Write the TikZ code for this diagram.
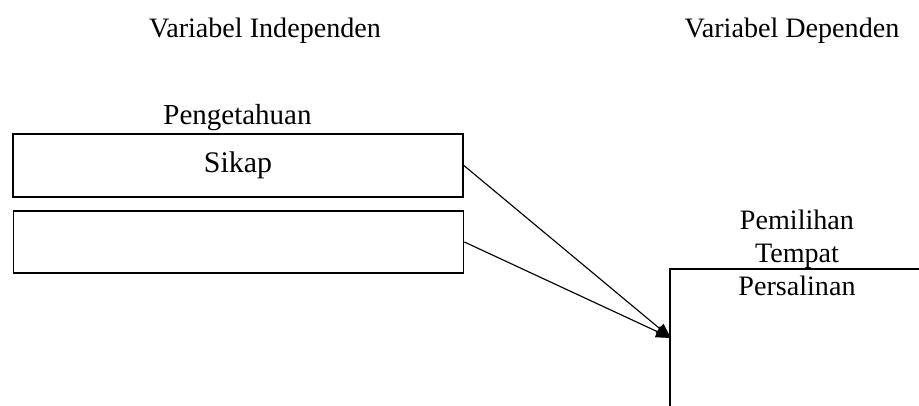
\documentclass[tikz,border=0pt]{standalone}
\usepackage{fontspec}
\setmainfont{Liberation Serif}
\usetikzlibrary{arrows.meta}

\begin{document}
\begin{tikzpicture}[
	varbox/.style={rectangle, draw=black, line width=1pt, minimum width=9cm, minimum height=1.25cm},
	link/.style={line width=0.65pt, -{Triangle[length=0.3cm, width=0.24cm]}}
]
\fontsize{16pt}{18.7pt}\selectfont

\useasboundingbox (0, 0) rectangle (18.38, 8.12);
\clip (0, 0) rectangle (18.38, 8.12);

\node (indep) at (5.3, 7.36) [anchor=base] {Variabel Independen};
\node (dep) at (15.84, 7.36) [anchor=base] {Variabel Dependen};

\node (sikap) at (4.76, 4.81) [varbox, font=\fontsize{17pt}{20pt}\selectfont] {Sikap};
\node (peng) at (4.75, 5.62) [anchor=base, font=\fontsize{16.5pt}{19pt}\selectfont] {Pengetahuan};
\node (kosong) at (4.77, 3.28) [varbox] {};

\node (pilih) at (15.94, 3.06) [anchor=center, align=center] {Pemilihan\\Tempat\\Persalinan};
\node (PT) at (16.9, 0.74) [rectangle, draw=black, line width=1.1pt, minimum width=7cm, minimum height=4cm] {};
\coordinate (masuk) at (13.42, 1.36);

\draw[link] (sikap.east) -- (masuk);
\draw[link] (kosong.east) -- (masuk);

\end{tikzpicture}
\end{document}
